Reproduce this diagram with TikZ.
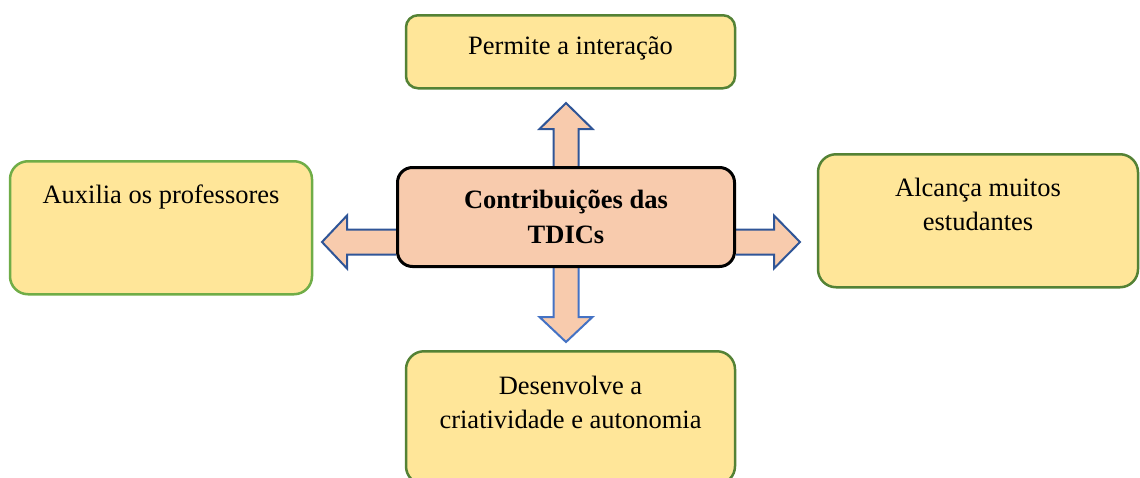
\documentclass[tikz,border=0pt]{standalone}
\usepackage{fontspec}
\setmainfont{Liberation Serif}
\usetikzlibrary{backgrounds}

\definecolor{boxyellow}{HTML}{FFE699}
\definecolor{boxgreen}{HTML}{548235}
\definecolor{leafgreen}{HTML}{70AD47}
\definecolor{corepeach}{HTML}{F8CBAD}
\definecolor{arrowblue}{HTML}{2F5597}
\definecolor{arrowblueb}{HTML}{4472C4}

\begin{document}
\begin{tikzpicture}[x=1pt, y=-1pt,
    every node/.style={font=\fontsize{26.5}{34.5}\selectfont, align=center, inner sep=0pt},
    topic/.style={draw=boxgreen, line width=2.5pt, fill=boxyellow, rounded corners=18pt, anchor=north},
    core/.style={draw=black, line width=3pt, fill=corepeach, rounded corners=15pt,
        minimum width=337pt, minimum height=99pt, font=\fontsize{26.5}{35}\selectfont\bfseries},
    blockarrow/.style={draw=arrowblue, line width=2pt, fill=corepeach, line join=miter}]
    \useasboundingbox (0,0) rectangle (1140,477);

    % Central idea
    \node[core] (tdic) at (566,217) {Contribuições das\\TDICs};

    % Surrounding ideas (text sits near the top of each box)
    \node[topic, rounded corners=12pt, minimum width=329pt, text height=39pt, text depth=34pt] (interacao) at (570.5,14) {Permite a interação};
    \node[topic, draw=leafgreen, minimum width=302pt, text height=42pt, text depth=91pt] (auxilia) at (161,160) {Auxilia os professores};
    \node[topic, minimum width=320pt, text height=76.5pt, text depth=56.5pt] (alcanca) at (978,153) {Alcança muitos\\estudantes};
    \node[topic, minimum width=329pt, text height=77.5pt, text depth=55.5pt] (criatividade) at (570.5,350) {Desenvolve a\\criatividade e autonomia};

    % Block arrows out of the central box
    \begin{scope}[on background layer]
        \draw[blockarrow] ([xshift=-12.5pt]tdic.north) -- ++(0,-37) -- ++(-14,0) -- ++(26.5,-26) -- ++(26.5,26) -- ++(-14,0) -- ++(0,37);
        \draw[blockarrow] ([yshift=-12.5pt]tdic.west) -- ++(-49,0) -- ++(0,-14) -- ++(-25,26.5) -- ++(25,26.5) -- ++(0,-14) -- ++(49,0);
        \draw[blockarrow] ([yshift=-12.5pt]tdic.east) -- ++(38,0) -- ++(0,-14) -- ++(26,26.5) -- ++(-26,26.5) -- ++(0,-14) -- ++(-38,0);
        \draw[blockarrow, draw=arrowblueb] ([xshift=-12.5pt]tdic.south) -- ++(0,49) -- ++(-14,0) -- ++(26.5,25) -- ++(26.5,-25) -- ++(-14,0) -- ++(0,-49);
    \end{scope}
\end{tikzpicture}
\end{document}
